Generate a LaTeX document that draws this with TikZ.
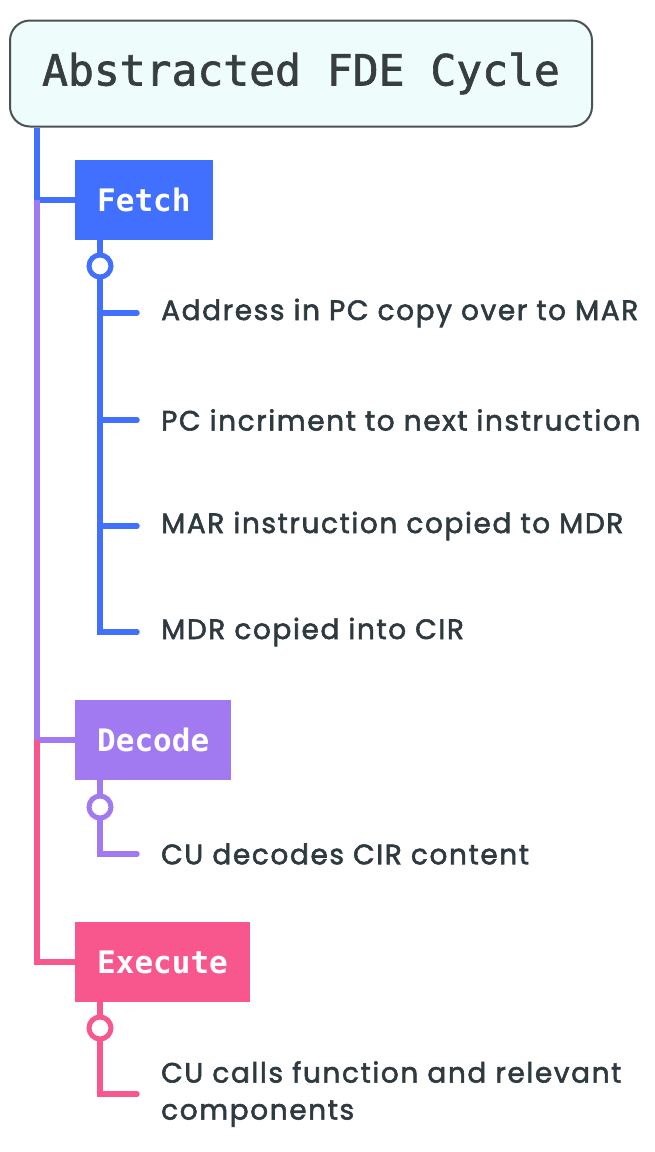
\documentclass[tikz,border=0pt]{standalone}
\usepackage{fontspec}
\setmainfont{Poppins}[FakeBold=2, LetterSpace=5.7]
\newfontfamily\titlefont{DejaVu Sans Mono}[FakeBold=1.5]
\newfontfamily\boxfont{DejaVu Sans Mono}
\definecolor{titlefill}{HTML}{EEFCFC}
\definecolor{titleborder}{HTML}{4B5252}
\definecolor{titletext}{HTML}{383E3E}
\definecolor{fetchc}{HTML}{4170FF}
\definecolor{decodec}{HTML}{A17AF2}
\definecolor{executec}{HTML}{F7578C}
\definecolor{itemtext}{HTML}{2E3A40}
\tikzset{
  titlebox/.style={draw=titleborder, fill=titlefill, line width=2pt, rounded corners=20pt,
    minimum width=582pt, minimum height=106pt, text=titletext,
    font=\titlefont\fontsize{43}{50}\selectfont},
  stagebox/.style={anchor=west, minimum height=80pt, inner xsep=22pt, inner ysep=0pt, text=white,
    font=\boxfont\bfseries\fontsize{31}{36}\selectfont},
  conn/.style={line width=5.5pt},
  subline/.style={line width=5.5pt, line cap=round},
  knob/.style={circle, draw, fill=white, line width=5pt, minimum size=22pt, inner sep=0pt},
  item/.style={anchor=west, inner sep=0pt, text=itemtext, align=left,
    font=\fontsize{28}{37}\selectfont},
}
\begin{document}
\begin{tikzpicture}[x=1pt,y=-1pt]
\useasboundingbox (0,0) rectangle (655,1152);
\node[titlebox] (title) at (301,73.5) {Abstracted FDE Cycle};

\node[stagebox, fill=fetchc] (fetch) at (75,200) {Fetch};
\node[stagebox, fill=decodec] (decode) at (75,740) {Decode};
\node[stagebox, fill=executec] (execute) at (75,962) {Execute};

\coordinate (t0) at ([xshift=28pt]title.south west);
\coordinate (t1) at (t0 |- fetch.west);
\coordinate (t2) at (t0 |- decode.west);
\draw[conn, fetchc] (t0) |- (fetch.west);
\draw[conn, decodec] (t1) |- (decode.west);
\draw[conn, executec] (t2) |- (execute.west);

% Fetch items
\node[knob, draw=fetchc] (fk) at (100,266) {};
\node[item] (f1) at (161,313) {Address in PC copy over to MAR};
\node[item] (f2) at (161,420) {PC incriment to next instruction};
\node[item] (f3) at (161,526) {MAR instruction copied to MDR};
\node[item] (f4) at (161,632) {MDR copied into CIR};
\draw[conn, fetchc] (fk |- fetch.south) -- (fk.north);
\draw[subline, fetchc, shorten >=24pt] (fk.south) |- (f4.west);
\draw[subline, fetchc, shorten >=24pt] (fk |- f1.west) -- (f1.west);
\draw[subline, fetchc, shorten >=24pt] (fk |- f2.west) -- (f2.west);
\draw[subline, fetchc, shorten >=24pt] (fk |- f3.west) -- (f3.west);

% Decode items
\node[knob, draw=decodec] (dk) at (100,807) {};
\node[item] (d1) at (161,854) {CU decodes CIR content};
\draw[conn, decodec] (dk |- decode.south) -- (dk.north);
\draw[subline, decodec, shorten >=24pt] (dk.south) |- (d1.west);

% Execute items
\node[knob, draw=executec] (ek) at (100,1028) {};
\node[item] (e1) at (161,1094) {CU calls function and relevant\\components};
\draw[conn, executec] (ek |- execute.south) -- (ek.north);
\draw[subline, executec, shorten >=24pt] (ek.south) |- (e1.west);
\end{tikzpicture}
\end{document}
